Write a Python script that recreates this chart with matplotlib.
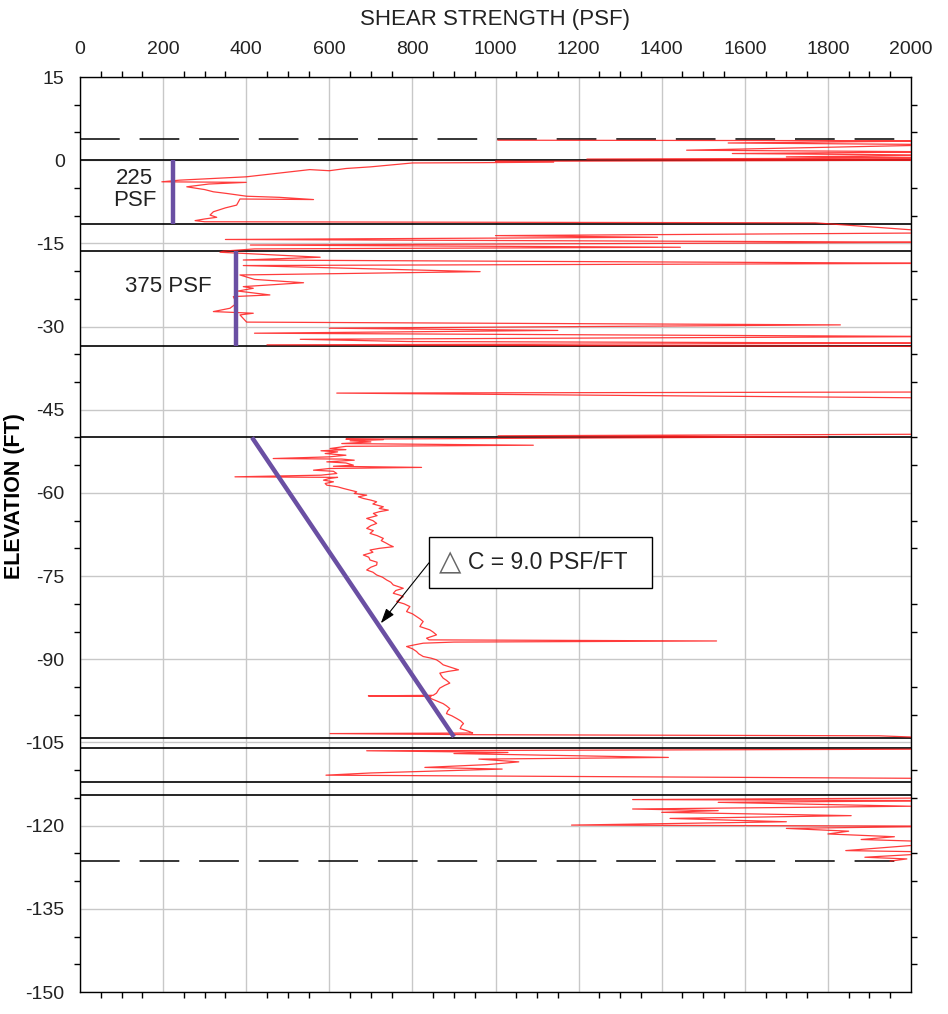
import matplotlib
matplotlib.use("Agg")
import matplotlib.pyplot as plt
from matplotlib.patches import Rectangle
from matplotlib.ticker import MultipleLocator

plt.rcParams.update(
    {
        "font.family": ["Liberation Sans", "DejaVu Sans"],
        "axes.linewidth": 1.0,
        "axes.unicode_minus": False,
    }
)

# red trace: elevation (ft) / shear strength (psf)
# upper part, ground surface down to the -50 ft layer boundary
upper_elev = [
    3.6, 3.5, 3.1, 2.8, 1.8, 1.5, 1.2, 0.9, 0.6, 0.4, 0.2, 0.0, -0.2, -0.35, -0.45,
    -0.5, -1.2, -1.5, -1.9, -1.7, -2.4, -3.0, -3.6, -3.9, -4.0, -4.3, -4.8, -5.3,
    -5.7, -6.0, -6.5, -6.7, -7.1, -7.0, -8.1, -8.6, -9.3, -9.9, -10.3, -10.6, -10.9,
    -11.1, -11.3, -13.1, -13.6, -13.9, -14.3, -14.8, -15.3, -15.7, -16.0, -16.4,
    -16.6, -17.5, -18.0, -18.6, -19.0, -20.1, -20.7, -21.5, -22.1, -22.8, -23.1,
    -23.6, -24.3, -24.6, -25.8, -26.7, -27.3, -27.6, -27.9, -29.2, -29.7, -30.3,
    -30.7, -31.2, -31.8, -32.3, -32.7, -33.0, -33.3, -33.6, -41.8, -42.0, -42.9,
    -49.4, -49.7, -49.9,
]
upper_psf = [
    1006, 2100, 1560, 2100, 1460, 2100, 1570, 2100, 1700, 2100, 1220, 2100, 1000, 1140, 960,
    800, 700, 640, 600, 553, 470, 400, 240, 197, 400, 310, 257, 300,
    321, 353, 401, 480, 562, 385, 377, 350, 321, 313, 329, 300, 277,
    300, 1770, 2100, 1000, 1390, 350, 2100, 410, 1445, 420, 345,
    337, 578, 393, 2100, 393, 963, 385, 420, 538, 393, 417,
    380, 457, 369, 377, 361, 321, 417, 385, 401, 1830, 600,
    1150, 420, 2100, 530, 790, 2100, 450, 2100, 2100, 618, 2100,
    2100, 1006, 1800,
]
# middle clay layer, -50 to -104 ft
middle_elev = [
    -50.3, -50.4, -50.6, -50.8, -51.1, -51.4, -51.6, -52.0, -52.2, -52.4, -52.6, -52.9,
    -53.2, -53.5, -53.8, -53.9, -54.1, -54.4, -54.6, -55.0, -55.2, -55.4, -55.6, -55.9,
    -56.1, -56.5, -56.8, -57.1, -57.2, -57.4, -57.7, -58.0, -58.3, -58.6, -58.9, -59.2,
    -59.5, -59.8, -60.1, -60.4, -60.7, -61.0, -61.3, -61.6, -62.0, -62.5, -62.8, -63.1,
    -63.4, -63.7, -64.1, -64.6, -65.0, -65.5, -65.9, -66.4, -66.8, -67.3, -67.7, -68.2,
    -68.6, -69.1, -69.4, -69.7, -70.0, -70.3, -70.7, -71.2, -71.6, -72.1, -72.5, -73.0,
    -73.4, -73.9, -74.3, -74.8, -75.2, -75.7, -76.1, -76.6, -76.9, -77.2, -77.6, -78.1,
    -78.4, -78.7, -79.1, -79.6, -80.0, -80.5, -80.9, -81.4, -81.8, -82.3, -82.7, -83.2,
    -83.6, -84.1, -84.4, -84.7, -85.1, -85.6, -85.9, -86.2, -86.5, -86.7, -86.9, -87.1,
    -87.4, -87.7, -88.1, -88.6, -89.0, -89.5, -89.8, -90.1, -90.5, -91.0, -91.5, -91.9,
    -92.2, -92.5, -93.0, -93.4, -93.8, -94.3, -94.7, -95.2, -95.6, -96.1, -96.5, -96.6,
    -96.7, -97.0, -97.5, -98.0, -98.4, -98.9, -99.3, -99.8, -100.2, -100.7, -101.1,
    -101.6, -102.0, -102.5, -102.8, -103.1, -103.3, -103.4, -103.6, -103.8, -104.3,
]
middle_psf = [
    640, 730, 650, 700, 630, 1091, 640, 602, 640, 580, 620, 590,
    640, 600, 465, 630, 660, 594, 640, 658, 610, 822, 600, 562,
    610, 618, 580, 373, 620, 600, 586, 610, 590, 594, 620, 634,
    650, 666, 660, 690, 670, 682, 700, 714, 705, 730, 720, 742,
    720, 706, 715, 690, 705, 714, 700, 690, 706, 698, 715, 730,
    725, 738, 745, 754, 720, 698, 705, 682, 695, 698, 715, 714,
    700, 690, 705, 714, 728, 738, 748, 754, 766, 778, 760, 754,
    768, 778, 770, 762, 780, 794, 790, 786, 800, 810, 818, 826,
    822, 818, 830, 842, 850, 858, 846, 834, 840, 1532, 900, 826,
    805, 786, 800, 810, 815, 826, 845, 858, 866, 874, 895, 911,
    885, 866, 870, 874, 882, 890, 878, 866, 862, 858, 850, 694,
    845, 842, 858, 874, 882, 890, 885, 882, 895, 907, 916,
    923, 918, 915, 928, 939, 945, 602, 955, 1923, 2100,
]
# lower sands, below -104 ft
lower_elev = [
    -106.2, -106.5, -106.8, -107.0, -107.7, -108.0, -108.5, -109.0, -109.5, -109.8,
    -110.5, -110.9, -111.5, -115.0, -115.3, -115.5, -115.8, -116.5, -117.0, -117.3,
    -117.6, -118.2, -118.7, -119.3, -119.9, -120.1, -120.5, -121.0, -121.5, -122.0,
    -122.5, -123.0, -124.5, -124.8, -125.7, -126.0, -126.4,
]
lower_psf = [
    2100, 690, 1030, 900, 1416, 960, 1056, 980, 830, 1016,
    700, 592, 2100, 2100, 1330, 2100, 1536, 2000, 1330, 1536,
    1400, 1856, 1420, 1700, 1183, 2100, 1700, 1850, 1800, 1960,
    1880, 2100, 1843, 2100, 1889, 1990, 1950,
]

# layer boundaries (ft) and reference levels (dashed)
layer_elev = [0.0, -11.5, -16.4, -33.5, -50.0, -104.2, -106.0, -112.1, -114.5]
dashed_elev = [3.8, -126.4]

# design strength lines
design_psf = [225, 375]
design_top = [0.0, -16.4]
design_bot = [-11.5, -33.5]
design_labels = ["225\nPSF", "375 PSF"]
label_psf = [132, 212]
label_elev = [-5.3, -22.7]
slope_psf = [414, 900]
slope_elev = [-50.0, -104.0]
slope_text = "C = 9.0 PSF/FT"

trace_elev = upper_elev + middle_elev + lower_elev
trace_psf = upper_psf + middle_psf + lower_psf

purple = "#6a4fa3"
ink = "#222222"

fig = plt.figure(figsize=(9.48, 10.14), dpi=100)
ax = fig.add_axes([80 / 948, 1 - 992 / 1014, 831 / 948, 915 / 1014])

ax.set_xlim(0, 2000)
ax.set_ylim(-150, 15)
ax.xaxis.set_major_locator(MultipleLocator(200))
ax.xaxis.set_minor_locator(MultipleLocator(50))
ax.yaxis.set_major_locator(MultipleLocator(15))
ax.yaxis.set_minor_locator(MultipleLocator(5))
ax.grid(True, which="major", color="#c8c8c8", lw=1.0, zorder=0)
ax.set_axisbelow(True)

ax.xaxis.tick_top()
ax.xaxis.set_label_position("top")
ax.tick_params(which="major", length=0, top=True, bottom=False, left=True, right=False,
               labelsize=14, labelcolor=ink)
ax.tick_params(axis="x", which="major", pad=14)
ax.tick_params(axis="y", which="major", pad=11)
ax.tick_params(which="minor", length=4, width=1, direction="out",
               top=True, bottom=True, left=True, right=True)

ax.set_xlabel("SHEAR STRENGTH (PSF)", fontsize=16, color=ink, labelpad=11)
ax.set_ylabel("ELEVATION (FT)", fontsize=15.5, fontweight="bold")
ax.yaxis.set_label_coords(-0.066, 0.542)

for e in layer_elev:
    ax.axhline(e, color="black", lw=1.2, zorder=2)
for e in dashed_elev:
    ax.axhline(e, color="black", lw=1.1, dashes=(26, 13), zorder=2)

ax.plot(trace_psf, trace_elev, color="#ff1a1a", lw=0.9, alpha=0.85, zorder=3)

for x, y0, y1 in zip(design_psf, design_top, design_bot):
    ax.plot([x, x], [y0, y1], color=purple, lw=3.2, zorder=4, solid_capstyle="butt")
ax.plot(slope_psf, slope_elev, color=purple, lw=3.2, zorder=4, solid_capstyle="butt")

for txt, x, y in zip(design_labels, label_psf, label_elev):
    ax.text(x, y, txt, fontsize=16, ha="center", va="center", color=ink,
            linespacing=1.1, zorder=5)

# call-out box with the strength gradient
ax.add_patch(Rectangle((840, -77.2), 536, 9.3, fc="white", ec="black", lw=1.0, zorder=6))
ax.annotate(
    "",
    xy=(724, -83.5),
    xytext=(840, -72.6),
    arrowprops=dict(arrowstyle="-|>,head_length=0.9,head_width=0.3", color="black",
                    lw=0.8, shrinkA=0, shrinkB=0),
    zorder=6,
)
ax.text(890, -72.6, "\u25b3", fontsize=21, ha="center", va="center", color="#666666",
        family="DejaVu Sans", zorder=7)
ax.text(934, -72.6, slope_text, fontsize=16.5, ha="left", va="center", color=ink, zorder=7)

fig.savefig("out.png", dpi=100)
